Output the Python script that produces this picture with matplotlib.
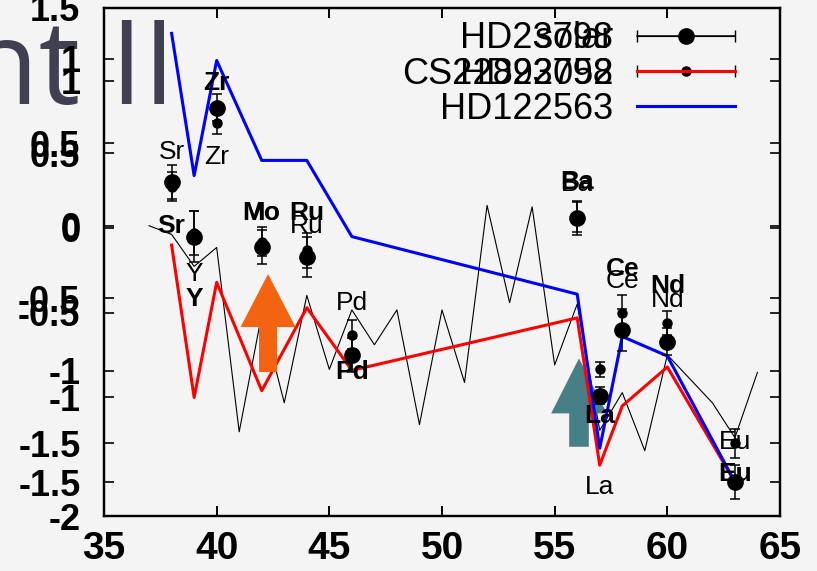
import matplotlib
matplotlib.use("Agg")
import matplotlib.pyplot as plt
from matplotlib.lines import Line2D
from matplotlib.legend_handler import HandlerLine2D
from matplotlib.patches import FancyArrow

plt.rcParams['font.family'] = ['Liberation Sans', 'DejaVu Sans']
plt.rcParams['axes.unicode_minus'] = False

# solar r-process pattern (thin black line, left scale -2..1.5)
solar_z   = [37, 38, 39, 40, 41, 42, 43, 44, 45, 46, 47, 48, 49, 50, 51, 52,
             53, 54, 55, 56, 57, 58, 59, 60, 62, 63, 64]
solar_val = [0.00, -0.06, -0.28, -0.15, -1.42, -0.61, -1.22, -0.48, -0.99, -0.58,
             -0.82, -0.58, -1.37, -0.58, -1.08, 0.14, -0.53, 0.13, -0.96, -0.54,
             -1.41, -1.15, -1.55, -0.89, -1.22, -1.46, -1.01]

# star abundances
elements    = ['Sr', 'Y', 'Zr', 'Mo', 'Ru', 'Pd', 'Ba', 'La', 'Ce', 'Nd', 'Eu']
z           = [38, 39, 40, 42, 44, 46, 56, 57, 58, 60, 63]
hd23798     = [0.27, -0.05, 0.71, -0.11, -0.17, -0.75, 0.06, -0.99, -0.60, -0.67, -1.50]
hd23798_err = [0.10, 0.15, 0.08, 0.10, 0.12, 0.10, 0.10, 0.05, 0.125, 0.08, 0.10]
cs22892     = [-0.10, -1.00, -0.32, -0.96, -0.47, -0.84, -0.53, -1.40, -1.05, -0.82, -1.50]
hd122563    = [1.15, 0.31, 0.99, 0.40, 0.40, -0.05, -0.39, -1.30, -0.64, -0.755, -1.50]

# element label heights (first plot / second plot scales)
label_y_a = [0.51, -0.33, 0.47, 0.09, 0.00, -0.53, 0.29, -1.80, -0.38, -0.51, -1.49]
label_y_b = [0.01, -0.42, 0.86, 0.09, 0.09, -0.85, 0.27, -1.11, -0.24, -0.34, -1.45]

xticks   = [35, 40, 45, 50, 55, 60, 65]
yticks_a = [-2, -1.5, -1, -0.5, 0, 0.5, 1, 1.5]
yticks_b = [-1.5, -1, -0.5, 0, 0.5, 1]

fig = plt.figure(figsize=(8.17, 5.71), dpi=100)
fig.patch.set_facecolor('#f4f4f4')
fig.text(-0.04, 0.818, 'nt II', fontsize=84, color='#404050', family='Open Sans',
         va='baseline', ha='left', zorder=-1)

rect = [0.1273, 0.0963, 0.8274, 0.8897]
ax1 = fig.add_axes(rect)
ax2 = fig.add_axes(rect)
ax1.set_ylim(-2, 1.5)
ax2.set_ylim(-1.7, 1.3)
for ax, yt in ((ax1, yticks_a), (ax2, yticks_b)):
    ax.patch.set_visible(False)
    ax.set_xlim(35, 65)
    ax.set_xticks(xticks)
    ax.set_yticks(yt)
    ax.set_yticklabels([f'{t:g}' for t in yt], fontsize=26, fontweight='bold')
    ax.tick_params(axis='both', direction='in', length=7, width=1.2,
                   top=True, right=True, colors='black')
    ax.tick_params(axis='y', pad=17)
    for s in ax.spines.values():
        s.set_linewidth(1.6)
ax1.set_xticklabels([str(t) for t in xticks], fontsize=28, fontweight='bold')
ax1.tick_params(axis='x', pad=11)
ax2.tick_params(axis='x', labelbottom=False)

# first plot: solar pattern + HD23798 (small dots)
ax1.plot(solar_z, solar_val, color='black', lw=0.8, zorder=2)
ax1.errorbar(z, hd23798, yerr=hd23798_err, fmt='o', color='black', ms=6.5,
             capsize=3.5, elinewidth=1.1, capthick=1.1, zorder=3)
for el, x, y in zip(elements, z, label_y_a):
    ax1.text(x, y, el, ha='center', va='center', fontsize=19)
ax1.add_patch(FancyArrow(56.08, -1.523, 0, 0.609, width=0.87, head_width=2.47,
                         head_length=0.379, length_includes_head=True,
                         color='#467f86', lw=0, zorder=4))

# second plot: HD23798 (big dots), CS22892-052, HD122563
ax2.errorbar(z, hd23798, yerr=hd23798_err, fmt='o', color='black', ms=11,
             capsize=3.5, elinewidth=1.1, capthick=1.1, zorder=3)
ax2.plot(z, cs22892, color='red', lw=2.2, zorder=2)
ax2.plot(z, hd122563, color='blue', lw=2.2, zorder=2)
for el, x, y in zip(elements, z, label_y_b):
    ax2.text(x, y, el, ha='center', va='center', fontsize=19, fontweight='bold')
ax2.add_patch(FancyArrow(42.28, -0.85, 0, 0.579, width=0.80, head_width=2.44,
                         head_length=0.313, length_includes_head=True,
                         color='#f26411', lw=0, zorder=5))

# legends (both plots share the same corner)
leg_kw = dict(loc='upper right', bbox_to_anchor=(0.933, 0.974), borderaxespad=0,
              borderpad=0, frameon=False, markerfirst=False, handlelength=2.7,
              handletextpad=0.66, labelspacing=0.01, fontsize=26)

caps_s = Line2D([], [], color='black', lw=1.1, marker='|', markersize=9)
dot_s = Line2D([], [], color='black', ls='none', marker='o', markersize=6.5)
solar_h = Line2D([], [], color='black', lw=0.8)
ax1.legend([solar_h, (caps_s, dot_s)], ['solar', 'HD23798'],
           handler_map={caps_s: HandlerLine2D(numpoints=2, marker_pad=0)}, **leg_kw)

caps_b = Line2D([], [], color='black', lw=1.1, marker='|', markersize=9)
dot_b = Line2D([], [], color='black', ls='none', marker='o', markersize=11)
red_h = Line2D([], [], color='red', lw=2.2)
blue_h = Line2D([], [], color='blue', lw=2.2)
ax2.legend([(caps_b, dot_b), red_h, blue_h], ['HD23798', 'CS22892052', 'HD122563'],
           handler_map={caps_b: HandlerLine2D(numpoints=2, marker_pad=0)}, **leg_kw)

fig.savefig('out.png', dpi=100, facecolor=fig.get_facecolor())
